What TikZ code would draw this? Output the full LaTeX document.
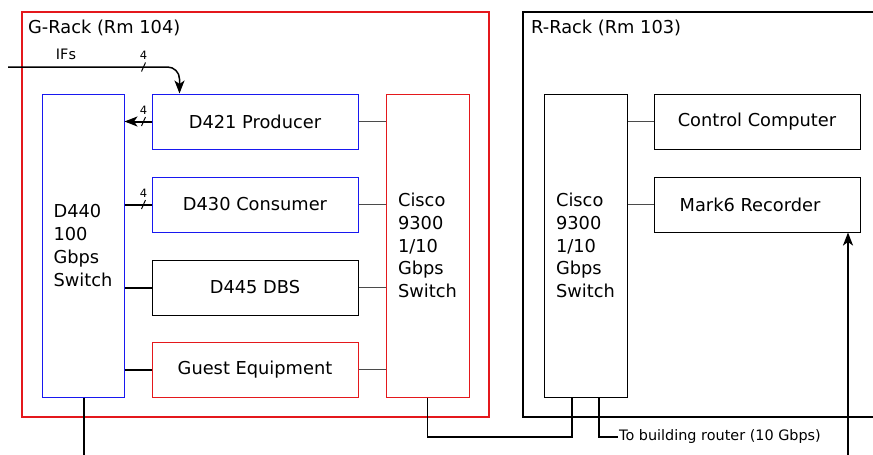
\documentclass[tikz,border=0pt]{standalone}
\usepackage{fontspec}
\setmainfont{DejaVu Sans}
\usepackage{tikz}
\usetikzlibrary{arrows.meta,positioning,calc}
\definecolor{rackred}{RGB}{228,24,28}
\definecolor{netblue}{RGB}{24,24,240}
\definecolor{linkgray}{RGB}{75,75,75}

\begin{document}
\begin{tikzpicture}[x=1pt,y=-1pt,
    unit/.style={draw,line width=1pt,minimum width=206pt,minimum height=55pt,
      inner sep=0pt,font=\fontsize{17.8}{22.8}\selectfont},
    switchbox/.style={draw,line width=1pt,minimum width=83pt,minimum height=303pt,
      inner sep=0pt,align=left,font=\fontsize{17.8}{22.8}\selectfont},
    fast/.style={line width=2pt},
    link/.style={linkgray,line width=1.4pt},
    uplink/.style={line width=1.5pt},
    headtip/.style={-{Stealth[length=13pt,width=10pt,inset=3.5pt]}}]
  \useasboundingbox (0,0) rectangle (873,455);
  % Racks
  \draw[rackred,line width=1.2pt] (22,12) rectangle (489,417);
  \draw[line width=1.2pt] (873,12) -- (523,12) -- (523,417) -- (873,417);
  \node[anchor=base west,inner sep=0pt,font=\fontsize{17.8}{20}\selectfont]
    (glabel) at (28,33) {G-Rack (Rm 104)};
  \node[anchor=base west,inner sep=0pt,font=\fontsize{17.8}{20}\selectfont]
    (rlabel) at (531,33) {R-Rack (Rm 103)};
  % G-Rack units
  \node[switchbox,netblue,text=black,minimum width=82pt] (d440) at (83,245.5)
    {D440\\100\\Gbps\\Switch};
  \node[unit,netblue,text=black] (prod) at (255,121.5) {D421 Producer};
  \node[unit,netblue,text=black] (cons) at (255,204.5) {D430 Consumer};
  \node[unit] (dbs) at (255,287.5) {D445 DBS};
  \node[unit,rackred,text=black] (guest) at (255,369.5) {Guest Equipment};
  \node[switchbox,rackred,text=black] (gcisco) at (427.5,245.5)
    {Cisco\\9300\\1/10\\Gbps\\Switch};
  % R-Rack units
  \node[switchbox] (rcisco) at (585.5,245.5) {Cisco\\9300\\1/10\\Gbps\\Switch};
  \node[unit] (ctrl) at (757,121.5) {Control Computer};
  \node[unit] (mark6) at (757,204.5) {\hspace*{-14pt}Mark6 Recorder};
  % Management links
  \foreach \u in {prod,cons,dbs,guest}
    \draw[link] (\u.east) -- (\u.east -| gcisco.west);
  \foreach \u in {ctrl,mark6}
    \draw[link] (\u.west) -- (\u.west -| rcisco.east);
  % Data links
  \draw[fast,headtip] (prod.west) -- (prod.west -| d440.east);
  \foreach \u in {cons,dbs,guest}
    \draw[fast] (\u.west) -- (\u.west -| d440.east);
  \coordinate (ifs) at (8,67);
  \draw[uplink,headtip,rounded corners=12pt] (ifs) -| ([xshift=28pt]prod.north west);
  \node[font=\fontsize{14.4}{16}\selectfont] (ifslabel) at (66,54) {IFs};
  % Bus width marks
  \foreach \y [count=\i] in {67,121.5,204.5} {
    \draw[line width=1pt] (141.5,\y+4.5) -- (145.5,\y-4.5);
    \node[font=\fontsize{11.5}{12}\selectfont,inner sep=0pt] (bus\i) at (143.5,\y-11.5) {4};
  }
  % Outside links
  \coordinate (d440out) at (84,455);
  \draw[fast] (d440.south -| d440out) -- (d440out);
  \draw[uplink] (gcisco.south) |- (437,437) -| ([xshift=-13.5pt]rcisco.south);
  \coordinate (router) at (618,437);
  \draw[uplink] ([xshift=13.5pt]rcisco.south) |- (router);
  \node[anchor=west,inner sep=1pt,font=\fontsize{14.4}{16}\selectfont]
    (routerlabel) at (router) {To building router (10 Gbps)};
  \coordinate (m6in) at (848,455);
  \draw[fast,headtip] (m6in) -- (m6in |- mark6.south);
\end{tikzpicture}
\end{document}
